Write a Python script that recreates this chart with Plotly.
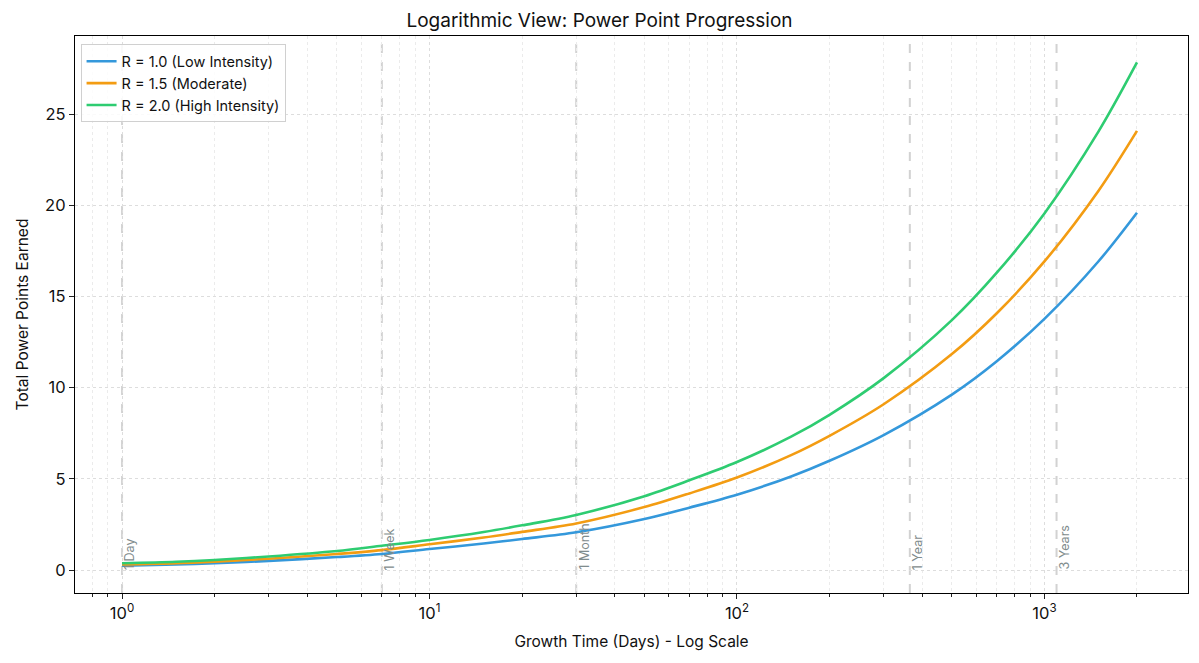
import math
import plotly.graph_objects as go

days = [1, 1.5, 2, 3, 5, 7, 10, 15, 20, 30, 50, 70, 100, 150, 200, 300, 500, 700, 1000, 1500, 2000]
low_intensity = [0.24, 0.30, 0.37, 0.50, 0.71, 0.88, 1.15, 1.45, 1.70, 2.07, 2.80, 3.42, 4.13, 5.13, 5.99, 7.40, 9.62, 11.45, 13.77, 16.93, 19.59]
moderate = [0.30, 0.37, 0.46, 0.62, 0.88, 1.09, 1.41, 1.78, 2.09, 2.55, 3.45, 4.20, 5.07, 6.30, 7.36, 9.09, 11.84, 14.08, 16.92, 20.80, 24.08]
high_intensity = [0.37, 0.45, 0.55, 0.74, 1.04, 1.33, 1.65, 2.08, 2.45, 3.02, 4.05, 4.92, 5.92, 7.31, 8.51, 10.52, 13.70, 16.30, 19.55, 24.05, 27.83]

series_names = ["R = 1.0 (Low Intensity)", "R = 1.5 (Moderate)", "R = 2.0 (High Intensity)"]
series_colors = ["#3498db", "#f39c12", "#2ecc71"]

milestone_days = [1, 7, 30, 365, 1095]
milestone_labels = ["1 Day", "1 Week", "1 Month", "1 Year", "3 Years"]

x_tick_vals = [1, 10, 100, 1000]
x_tick_text = ["10<sup>0</sup>", "10<sup>1</sup>", "10<sup>2</sup>", "10<sup>3</sup>"]
y_tick_vals = [0, 5, 10, 15, 20, 25]
minor_vals = [0.8, 0.9] + [m * 10 ** e for e in range(0, 4) for m in range(2, 10) if m * 10 ** e < 3000]

FONT = "Inter, Roboto, sans-serif"

fig = go.Figure()
for name, vals, col in zip(series_names, [low_intensity, moderate, high_intensity], series_colors):
    fig.add_trace(go.Scatter(x=days, y=vals, mode="lines", name=name,
                             line=dict(color=col, width=2.6, shape="spline", smoothing=0.9)))

for d, lab in zip(milestone_days, milestone_labels):
    fig.add_vline(x=d, line=dict(color="rgba(180,180,180,0.6)", width=2, dash="dash"), layer="below")
    fig.add_annotation(x=math.log10(d), y=0, text=lab, textangle=-90,
                       xanchor="left", yanchor="bottom", showarrow=False,
                       xshift=-2, yshift=-2,
                       font=dict(size=12.5, color="#7f8c8d", family=FONT))

fig.update_layout(
    width=1199, height=663,
    margin=dict(l=75, r=11, t=36, b=70),
    paper_bgcolor="white", plot_bgcolor="white",
    font=dict(family=FONT, color="#111111"),
    title=dict(text="Logarithmic View: Power Point Progression", x=0.5, xanchor="center",
               y=0.97, yanchor="middle", font=dict(size=19, family=FONT, color="#111111")),
    legend=dict(x=0.005, y=0.985, xanchor="left", yanchor="top",
                bordercolor="#d0d0d0", borderwidth=1, bgcolor="rgba(255,255,255,0.85)",
                font=dict(size=14.5, family=FONT), tracegroupgap=0),
    showlegend=True,
)

fig.update_xaxes(
    type="log", range=[-0.153, 3.467],
    tickmode="array", tickvals=x_tick_vals, ticktext=x_tick_text,
    ticks="outside", ticklen=5, tickcolor="#222", tickfont=dict(size=16.5, family=FONT),
    showgrid=True, gridcolor="#dddddd", griddash="dot", gridwidth=1,
    minor=dict(tickmode="array", tickvals=minor_vals, ticks="outside", ticklen=3,
               tickcolor="#222", showgrid=True, gridcolor="#ebebeb", griddash="dot"),
    showline=True, linecolor="black", linewidth=1.2, mirror=True,
    zeroline=False,
    title=dict(text="Growth Time (Days) - Log Scale", font=dict(size=15.5, family=FONT), standoff=14),
)
fig.update_yaxes(
    range=[-1.26, 29.28], tickmode="array", tickvals=y_tick_vals,
    ticks="outside", ticklen=5, tickcolor="#222", tickfont=dict(size=16.5, family=FONT),
    showgrid=True, gridcolor="#dddddd", griddash="dot", gridwidth=1,
    showline=True, linecolor="black", linewidth=1.2, mirror=True,
    zeroline=False,
    title=dict(text="Total Power Points Earned", font=dict(size=15.5, family=FONT), standoff=12),
)

fig.write_html("out.html")
